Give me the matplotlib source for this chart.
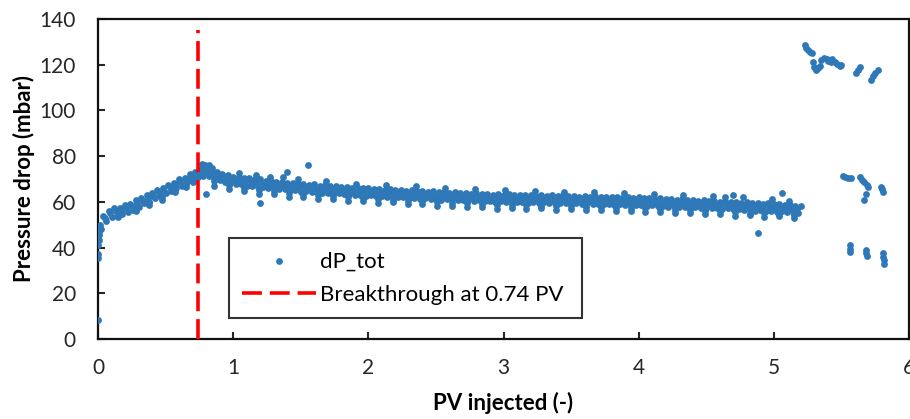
import matplotlib
matplotlib.use("Agg")
import matplotlib.pyplot as plt

# ---- data ----
# upper row of the main band
band_hi_x = [0.00, 0.04, 0.08, 0.12, 0.16, 0.20, 0.24, 0.28, 0.32, 0.36, 0.40, 0.44, 0.48, 0.52, 0.56,
             0.60, 0.64, 0.68, 0.72, 0.76, 0.80, 0.84, 0.88, 0.92, 0.96, 1.00, 1.04, 1.08, 1.12, 1.16,
             1.20, 1.24, 1.28, 1.32, 1.36, 1.40, 1.44, 1.48, 1.52, 1.56, 1.60, 1.64, 1.68, 1.72, 1.76,
             1.80, 1.84, 1.88, 1.92, 1.96, 2.00, 2.04, 2.08, 2.12, 2.16, 2.20, 2.24, 2.28, 2.32, 2.36,
             2.40, 2.44, 2.48, 2.52, 2.56, 2.60, 2.64, 2.68, 2.72, 2.76, 2.80, 2.84, 2.88, 2.92, 2.96,
             3.00, 3.04, 3.08, 3.12, 3.16, 3.20, 3.24, 3.28, 3.32, 3.36, 3.40, 3.44, 3.48, 3.52, 3.56,
             3.60, 3.64, 3.68, 3.72, 3.76, 3.80, 3.84, 3.88, 3.92, 3.96, 4.00, 4.04, 4.08, 4.12, 4.16,
             4.20, 4.24, 4.28, 4.32, 4.36, 4.40, 4.44, 4.48, 4.52, 4.56, 4.60, 4.64, 4.68, 4.72, 4.76,
             4.80, 4.84, 4.88, 4.92, 4.96, 5.00, 5.04, 5.08, 5.12, 5.16, 5.20]
band_hi_y = [49.0, 53.8, 56.0, 57.2, 57.4, 58.4, 59.2, 60.6, 61.5, 62.9, 63.8, 65.2, 66.0, 67.5, 68.3,
             69.8, 70.6, 72.1, 73.0, 74.3, 74.8, 73.6, 73.2, 72.2, 71.8, 70.9, 70.8, 70.3, 70.3, 69.8,
             69.8, 69.2, 69.3, 68.8, 68.8, 68.3, 68.3, 67.8, 67.8, 67.5, 67.6, 67.1, 67.2, 66.8, 67.0,
             66.5, 66.5, 66.2, 66.2, 65.9, 66.0, 65.6, 65.8, 65.3, 65.5, 65.1, 65.2, 64.9, 65.0, 64.6,
             64.8, 64.4, 64.6, 64.1, 64.3, 64.0, 64.2, 63.8, 64.0, 63.6, 63.8, 63.4, 63.6, 63.2, 63.4,
             63.0, 63.3, 62.9, 63.2, 62.8, 63.1, 62.7, 63.0, 62.6, 62.9, 62.5, 62.8, 62.4, 62.7, 62.3,
             62.5, 62.2, 62.4, 62.0, 62.3, 61.9, 62.1, 61.8, 62.0, 61.7, 61.9, 61.5, 61.7, 61.3, 61.5,
             61.1, 61.3, 60.9, 61.1, 60.7, 60.9, 60.5, 60.8, 60.3, 60.5, 60.1, 60.3, 59.9, 60.1, 59.7,
             59.9, 59.5, 59.6, 59.2, 59.4, 59.0, 59.1, 58.6, 58.7, 58.2, 58.3]

# middle row of the main band
band_mid_x = [0.01, 0.05, 0.09, 0.13, 0.17, 0.21, 0.25, 0.29, 0.33, 0.37, 0.41, 0.45, 0.49, 0.53, 0.57,
              0.61, 0.65, 0.69, 0.73, 0.77, 0.81, 0.85, 0.89, 0.93, 0.97, 1.01, 1.05, 1.09, 1.13, 1.17,
              1.21, 1.25, 1.29, 1.33, 1.37, 1.41, 1.45, 1.49, 1.53, 1.57, 1.61, 1.65, 1.69, 1.73, 1.77,
              1.81, 1.85, 1.89, 1.93, 1.97, 2.01, 2.05, 2.09, 2.13, 2.17, 2.21, 2.25, 2.29, 2.33, 2.37,
              2.41, 2.45, 2.49, 2.53, 2.57, 2.61, 2.65, 2.69, 2.73, 2.77, 2.81, 2.85, 2.89, 2.93, 2.97,
              3.01, 3.05, 3.09, 3.13, 3.17, 3.21, 3.25, 3.29, 3.33, 3.37, 3.41, 3.45, 3.49, 3.53, 3.57,
              3.61, 3.65, 3.69, 3.73, 3.77, 3.81, 3.85, 3.89, 3.93, 3.97, 4.01, 4.05, 4.09, 4.13, 4.17,
              4.21, 4.25, 4.29, 4.33, 4.37, 4.41, 4.45, 4.49, 4.53, 4.57, 4.61, 4.65, 4.69, 4.73, 4.77,
              4.81, 4.85, 4.89, 4.93, 4.97, 5.01, 5.05, 5.09, 5.13, 5.17]
band_mid_y = [49.0, 52.8, 54.9, 55.8, 56.0, 57.1, 58.0, 59.4, 60.3, 61.6, 62.6, 64.0, 64.9, 66.3, 67.2,
              68.6, 69.5, 70.8, 71.8, 73.1, 72.9, 72.4, 71.4, 70.9, 69.9, 69.6, 69.1, 69.1, 68.6, 68.6,
              68.0, 68.1, 67.5, 67.6, 67.0, 67.1, 66.5, 66.6, 66.1, 66.2, 65.8, 65.9, 65.4, 65.6, 65.1,
              65.3, 64.8, 64.9, 64.5, 64.6, 64.2, 64.4, 63.9, 64.1, 63.7, 63.9, 63.5, 63.6, 63.2, 63.4,
              63.0, 63.2, 62.7, 62.9, 62.5, 62.7, 62.3, 62.6, 62.2, 62.4, 62.0, 62.2, 61.8, 62.0, 61.6,
              61.8, 61.4, 61.7, 61.3, 61.6, 61.2, 61.5, 61.1, 61.4, 61.0, 61.3, 60.9, 61.2, 60.8, 61.0,
              60.7, 60.9, 60.6, 60.8, 60.4, 60.7, 60.3, 60.5, 60.2, 60.4, 60.0, 60.2, 59.9, 60.1, 59.7,
              59.9, 59.5, 59.7, 59.3, 59.5, 59.1, 59.3, 58.9, 59.1, 58.7, 58.9, 58.5, 58.7, 58.3, 58.5,
              58.1, 58.3, 57.8, 58.0, 57.6, 57.7, 57.3, 57.3, 56.8, 56.9]

# lower row of the main band
band_lo_x = [0.02, 0.06, 0.10, 0.14, 0.18, 0.22, 0.26, 0.30, 0.34, 0.38, 0.42, 0.46, 0.50, 0.54, 0.58,
             0.62, 0.66, 0.70, 0.74, 0.78, 0.82, 0.86, 0.90, 0.94, 0.98, 1.02, 1.06, 1.10, 1.14, 1.18,
             1.22, 1.26, 1.30, 1.34, 1.38, 1.42, 1.46, 1.50, 1.54, 1.58, 1.62, 1.66, 1.70, 1.74, 1.78,
             1.82, 1.86, 1.90, 1.94, 1.98, 2.02, 2.06, 2.10, 2.14, 2.18, 2.22, 2.26, 2.30, 2.34, 2.38,
             2.42, 2.46, 2.50, 2.54, 2.58, 2.62, 2.66, 2.70, 2.74, 2.78, 2.82, 2.86, 2.90, 2.94, 2.98,
             3.02, 3.06, 3.10, 3.14, 3.18, 3.22, 3.26, 3.30, 3.34, 3.38, 3.42, 3.46, 3.50, 3.54, 3.58,
             3.62, 3.66, 3.70, 3.74, 3.78, 3.82, 3.86, 3.90, 3.94, 3.98, 4.02, 4.06, 4.10, 4.14, 4.18,
             4.22, 4.26, 4.30, 4.34, 4.38, 4.42, 4.46, 4.50, 4.54, 4.58, 4.62, 4.66, 4.70, 4.74, 4.78,
             4.82, 4.86, 4.90, 4.94, 4.98, 5.02, 5.06, 5.10, 5.14, 5.18]
band_lo_y = [48.0, 51.5, 53.5, 54.0, 54.8, 55.5, 56.6, 57.8, 59.3, 60.1, 61.6, 62.4, 63.9, 64.7, 66.2,
             67.0, 68.5, 69.2, 70.7, 71.1, 71.4, 70.3, 69.6, 68.7, 68.3, 67.6, 67.6, 67.0, 67.1, 66.5,
             66.6, 66.0, 66.1, 65.5, 65.6, 65.0, 65.1, 64.5, 64.7, 64.2, 64.3, 63.9, 64.0, 63.6, 63.7,
             63.3, 63.4, 63.0, 63.1, 62.7, 62.8, 62.4, 62.5, 62.1, 62.3, 61.9, 62.1, 61.7, 61.8, 61.4,
             61.6, 61.2, 61.4, 61.0, 61.2, 60.8, 61.0, 60.6, 60.8, 60.4, 60.6, 60.2, 60.4, 60.0, 60.2,
             59.9, 60.1, 59.8, 60.0, 59.7, 59.9, 59.6, 59.8, 59.5, 59.7, 59.4, 59.6, 59.3, 59.5, 59.2,
             59.4, 59.0, 59.2, 58.9, 59.1, 58.7, 58.9, 58.6, 58.8, 58.5, 58.6, 58.3, 58.4, 58.1, 58.2,
             57.9, 58.0, 57.7, 57.8, 57.5, 57.6, 57.3, 57.5, 57.2, 57.3, 57.0, 57.1, 56.7, 56.9, 56.5,
             56.7, 56.2, 56.4, 56.0, 56.1, 55.7, 55.9, 55.4, 55.5, 55.0]

# periodic downward dips (two dots per dip)
dip_x = [0.15, 0.28, 0.38, 0.47, 0.57, 0.65, 0.70,
         0.86, 0.97, 1.08, 1.19, 1.30, 1.41, 1.52, 1.63, 1.74, 1.85, 1.96, 2.07, 2.18, 2.29,
         2.40, 2.51, 2.62, 2.73, 2.84, 2.95, 3.06, 3.17, 3.28, 3.39, 3.50, 3.61, 3.72, 3.83,
         3.94, 4.05, 4.16, 4.27, 4.38, 4.49, 4.60, 4.71, 4.82, 4.93, 5.04, 5.15]
dip_low = [53.5, 56.2, 58.8, 61.0, 64.3, 66.5, 68.5,
           67.0, 65.8, 64.8, 63.5, 63.5, 62.0, 62.3, 61.2, 61.3, 60.2, 60.5, 59.5, 59.8, 58.9,
           59.0, 58.0, 58.3, 57.6, 57.8, 57.0, 57.4, 56.8, 57.2, 56.6, 56.8, 56.3, 56.5, 55.8,
           56.0, 55.5, 55.6, 55.0, 55.2, 54.6, 54.8, 54.0, 54.2, 53.5, 53.8, 53.0]
dip_mid = [55.0, 57.5, 60.0, 62.3, 65.5, 67.8, 69.8,
           69.0, 67.2, 66.2, 65.2, 64.8, 64.0, 63.5, 62.8, 62.5, 62.0, 61.7, 61.2, 61.0, 60.5,
           60.3, 59.8, 59.6, 59.3, 59.1, 58.7, 58.6, 58.4, 58.3, 58.1, 58.0, 57.8, 57.6, 57.4,
           57.3, 57.1, 56.8, 56.6, 56.3, 56.1, 55.8, 55.6, 55.3, 55.0, 54.7, 54.4]

# upward spikes
spike_x = [0.77, 0.79, 0.82, 0.84, 1.04, 1.17, 1.27, 1.37, 1.48, 1.69, 1.91, 2.13, 2.35, 2.57,
           2.79, 3.01, 3.23, 3.45, 3.67, 3.89, 4.11, 4.33, 4.55, 4.64, 4.77, 4.99, 5.11]
spike_y = [76.5, 76.0, 76.3, 75.0, 72.5, 71.8, 71.0, 70.8, 70.0, 69.0, 68.0, 67.3, 66.8, 66.2,
           65.6, 65.0, 64.9, 64.5, 64.3, 64.0, 63.6, 63.2, 62.6, 62.0, 62.3, 61.3, 60.5]

# start-up points and isolated outliers
single_x = [0.0, 0.0, 0.003, 0.003, 0.006, 0.008, 0.01, 0.012, 0.80, 1.20, 1.40, 1.55, 4.70, 4.88, 5.06]
single_y = [8.5, 35.5, 37.0, 41.0, 43.5, 45.5, 47.0, 50.0, 63.5, 59.3, 73.0, 76.3, 63.0, 46.4, 63.7]

# scattered points after 5.2 PV
tail_x = [5.23, 5.24, 5.25, 5.27, 5.28, 5.29, 5.30, 5.31, 5.33, 5.34, 5.35, 5.37, 5.39, 5.40,
          5.42, 5.43, 5.45, 5.47, 5.49, 5.50, 5.61, 5.62, 5.64, 5.72, 5.73, 5.75, 5.77,
          5.51, 5.53, 5.55, 5.57, 5.64, 5.65, 5.67, 5.69, 5.70, 5.68, 5.67, 5.79, 5.80, 5.81,
          5.56, 5.56, 5.565, 5.68, 5.68, 5.69, 5.81, 5.81, 5.815, 5.815]
tail_y = [128.5, 127.5, 126.5, 125.5, 125.0, 121.0, 119.0, 117.5, 118.5, 119.5, 122.0, 123.0, 122.5, 121.5,
          121.0, 122.5, 121.0, 120.5, 119.5, 120.0, 116.5, 117.5, 119.0, 113.5, 115.0, 116.5, 117.5,
          71.5, 71.0, 70.5, 70.5, 71.0, 69.5, 68.5, 67.5, 66.5, 63.5, 61.0, 66.5, 65.5, 64.5,
          41.0, 39.5, 38.0, 39.0, 37.5, 36.5, 37.5, 36.0, 34.5, 33.0]

breakthrough_pv = 0.74
breakthrough_top = 135

x_ticks = [0, 1, 2, 3, 4, 5, 6]
y_ticks = [0, 20, 40, 60, 80, 100, 120, 140]

blue = "#2e78b7"
plt.rcParams['font.family'] = ['Lato', 'DejaVu Sans']

fig = plt.figure(figsize=(9.10, 4.19), dpi=100)
ax = fig.add_axes([0.1077, 0.191, 0.8912, 0.7637])

all_x = band_hi_x + band_mid_x + band_lo_x + dip_x + dip_x + spike_x + single_x + tail_x
all_y = band_hi_y + band_mid_y + band_lo_y + dip_low + dip_mid + spike_y + single_y + tail_y
ax.scatter(all_x, all_y, s=24, color=blue, linewidths=0, label="dP_tot", zorder=3)

ax.plot([breakthrough_pv, breakthrough_pv], [0, breakthrough_top], color="#ff0000",
        linewidth=2.6, dashes=(5.5, 2.2), label="Breakthrough at 0.74 PV", zorder=4)

ax.set_xlim(0, 6)
ax.set_ylim(0, 140)
ax.set_xticks(x_ticks)
ax.set_yticks(y_ticks)
ax.tick_params(direction="in", length=5, width=1.5, labelsize=15, colors="#262626")
ax.tick_params(axis="x", pad=14)
ax.tick_params(axis="y", pad=16)
for sp in ax.spines.values():
    sp.set_linewidth(1.6)
    sp.set_color("#111111")

ax.set_xlabel("PV injected (-)", fontsize=16, fontweight="bold", labelpad=10)
ax.set_ylabel("Pressure drop (mbar)", fontsize=16, fontweight="bold", labelpad=3)

leg = ax.legend(loc="lower left", bbox_to_anchor=(0.1615, 0.066, 0.4355, 0.243), mode="expand",
                fontsize=16, frameon=True, fancybox=False, edgecolor="black",
                scatterpoints=1, handlelength=3.3, handletextpad=0.2, borderpad=0.6,
                labelspacing=0.6, borderaxespad=0)
leg.get_frame().set_linewidth(1.5)

fig.savefig("out.png", dpi=100)
